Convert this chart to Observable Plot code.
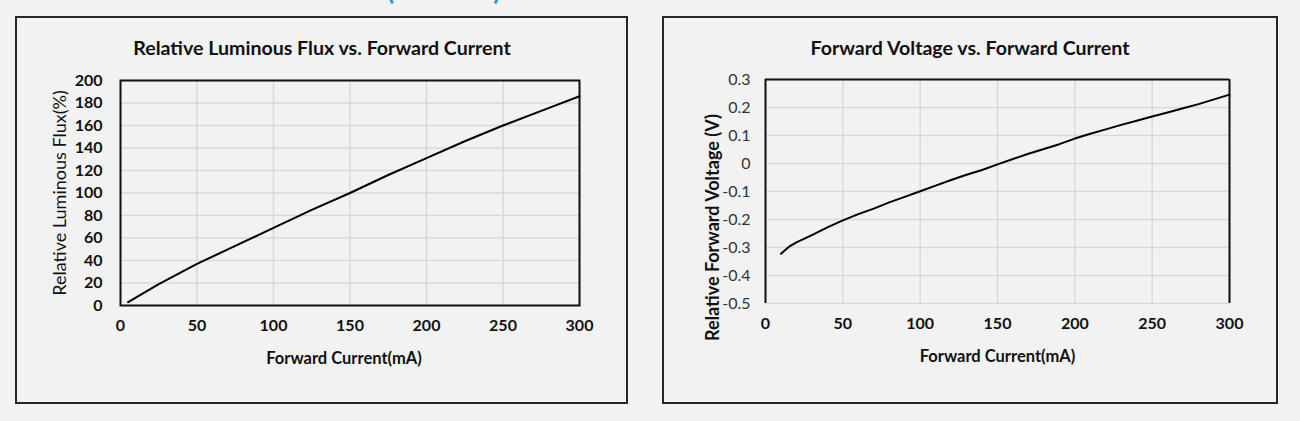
<!DOCTYPE html>
<html>
<head>
<meta charset="utf-8">
<script src="https://cdn.jsdelivr.net/npm/d3@7"></script>
<script src="https://cdn.jsdelivr.net/npm/@observablehq/plot@0.6"></script>
<style>
  html, body { margin: 0; padding: 0; background: #f2f2f2; width: 1300px; height: 421px; overflow: hidden; }
  body { position: relative; font-family: Lato, "Open Sans", sans-serif; }
  .box { position: absolute; box-sizing: border-box; border: 2px solid #262626; }
  .title { position: absolute; font-weight: bold; font-size: 19.6px; color: #111; white-space: nowrap; transform: translate(-50%, -50%); }
  .note { position: absolute; color: #1a9ee0; font-weight: bold; font-size: 26px; line-height: 26px; white-space: nowrap; }
  .chart { position: absolute; }
</style>
</head>
<body>
<div class="note" style="left:387px; top:-23px;">(Ta=25°C)</div>
<div class="box" style="left:15px; top:16px; width:613px; height:388px;"></div>
<div class="box" style="left:662px; top:16px; width:616px; height:388px;"></div>
<div class="title" style="left:322px; top:47px;">Relative Luminous Flux vs. Forward Current</div>
<div class="title" style="left:970px; top:47px;">Forward Voltage vs. Forward Current</div>
<div id="c1" class="chart" style="left:17px; top:62px;"></div>
<div id="c2" class="chart" style="left:665px; top:62px;"></div>
<script>
// ---- data ----
const xTicks = [0, 50, 100, 150, 200, 250, 300];
const fluxTicks = [0, 20, 40, 60, 80, 100, 120, 140, 160, 180, 200];
const vfTicks = [-0.5, -0.4, -0.3, -0.2, -0.1, 0, 0.1, 0.2, 0.3];

const fluxCurrent = [5, 25, 50, 75, 100, 125, 150, 175, 200, 225, 250, 275, 300];
const fluxValue   = [3, 19, 37, 53, 69, 85, 100, 116, 131, 146, 160, 173, 186];

const vfCurrent = [10, 15, 20, 30, 40, 50, 60, 70, 80, 90, 100, 110, 120, 130, 140, 150, 160, 170, 180, 190, 200, 210, 220, 230, 240, 250, 260, 270, 280, 290, 300];
const vfValue   = [-0.322, -0.298, -0.282, -0.256, -0.228, -0.203, -0.181, -0.161, -0.139, -0.119, -0.099, -0.079, -0.059, -0.040, -0.023, -0.003, 0.016, 0.035, 0.052, 0.069, 0.089, 0.106, 0.122, 0.138, 0.153, 0.168, 0.182, 0.197, 0.212, 0.229, 0.246];

const fluxData = fluxCurrent.map((c, i) => ({c, v: fluxValue[i]}));
const vfData = vfCurrent.map((c, i) => ({c, v: vfValue[i]}));

const gridColor = "#d9d9d9";

const c1 = Plot.plot({
  width: 608, height: 320,
  marginLeft: 103, marginRight: 46, marginTop: 18, marginBottom: 77,
  style: {background: "transparent", fontFamily: "Lato, sans-serif", fontSize: "16px", fontWeight: "bold", color: "#111", overflow: "visible"},
  x: {domain: [0, 300]},
  y: {domain: [0, 200]},
  marks: [
    Plot.gridX(xTicks, {stroke: gridColor, strokeOpacity: 1, strokeWidth: 1.5}),
    Plot.gridY(fluxTicks, {stroke: gridColor, strokeOpacity: 1, strokeWidth: 1.5}),
    Plot.frame({stroke: "#111", strokeWidth: 2}),
    Plot.line(fluxData, {x: "c", y: "v", stroke: "#000", strokeWidth: 2}),
    Plot.axisX(xTicks, {tickSize: 0, tickPadding: 14, label: null}),
    Plot.axisY(fluxTicks, {tickSize: 0, tickPadding: 18, label: null}),
    Plot.text(["Forward Current(mA)"], {frameAnchor: "bottom", dx: -6, dy: 58, fontSize: 16.5, fontWeight: "bold"}),
    Plot.text(["Relative Luminous Flux(%)"], {frameAnchor: "left", textAnchor: "middle", rotate: -90, dx: -60, fontSize: 18, fontWeight: "normal"})
  ]
});
document.getElementById("c1").append(c1);

const c2 = Plot.plot({
  width: 610, height: 320,
  marginLeft: 100, marginRight: 46, marginTop: 17, marginBottom: 79,
  style: {background: "transparent", fontFamily: "Lato, sans-serif", fontSize: "16px", color: "#333", overflow: "visible"},
  x: {domain: [0, 300]},
  y: {domain: [-0.5, 0.3]},
  marks: [
    Plot.gridX(xTicks, {stroke: gridColor, strokeOpacity: 1, strokeWidth: 1.5}),
    Plot.gridY(vfTicks, {stroke: gridColor, strokeOpacity: 1, strokeWidth: 1.5}),
    Plot.ruleX([0, 300], {stroke: "#111", strokeWidth: 2}),
    Plot.ruleY([0.3], {stroke: "#111", strokeWidth: 2}),
    Plot.line(vfData, {x: "c", y: "v", stroke: "#000", strokeWidth: 2}),
    Plot.axisX(xTicks, {tickSize: 0, tickPadding: 14, label: null, fontWeight: "bold", fill: "#111"}),
    Plot.axisY(vfTicks, {tickSize: 0, tickPadding: 15, label: null, tickFormat: d => String(+d.toFixed(1))}),
    Plot.text(["Forward Current(mA)"], {frameAnchor: "bottom", dy: 58, fontSize: 16.5, fontWeight: "bold", fill: "#111"}),
    Plot.text(["Relative Forward Voltage (V)"], {frameAnchor: "left", textAnchor: "middle", rotate: -90, dx: -52, dy: 36, fontSize: 18, fontWeight: "bold", fill: "#111"})
  ]
});
document.getElementById("c2").append(c2);
</script>
</body>
</html>
